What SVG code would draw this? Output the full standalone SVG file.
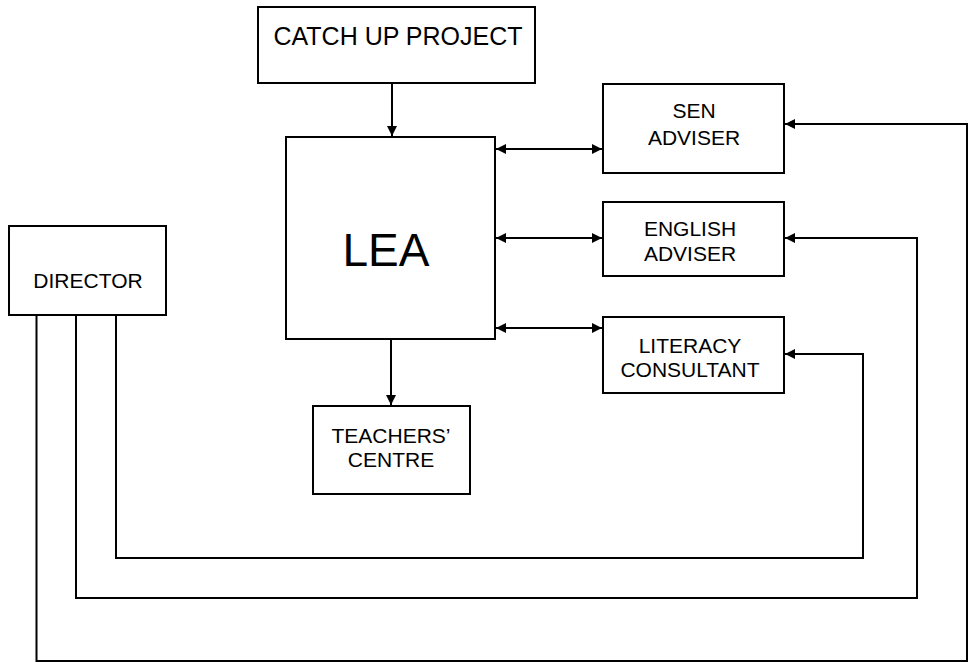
<svg xmlns="http://www.w3.org/2000/svg" width="970" height="662" viewBox="0 0 970 662">
<style>
.box{fill:#fff;stroke:#000;stroke-width:2}
.t{font-family:"Liberation Sans",Arial,sans-serif;font-size:21px;fill:#000;text-anchor:middle}
.c{fill:none;stroke:#000;stroke-width:2}
</style>
<defs>
<marker id="ah" viewBox="0 0 10 10" refX="10" refY="5" markerWidth="10" markerHeight="10" markerUnits="userSpaceOnUse" orient="auto-start-reverse">
<path d="M0,0 L10,5 L0,10 z" fill="#000"/>
</marker>
</defs>
<rect width="970" height="662" fill="#fff"/>
<g id="catchup"><rect class="box" x="258" y="7" width="277" height="76"/><text class="t" x="398" y="45" style="font-size:25px">CATCH UP PROJECT</text></g>
<g id="lea"><rect class="box" x="286" y="137" width="209" height="202"/><text class="t" x="386" y="266" style="font-size:46px">LEA</text></g>
<g id="sen"><rect class="box" x="603" y="84" width="181" height="89"/><text class="t" x="694" y="118">SEN</text><text class="t" x="694" y="145">ADVISER</text></g>
<g id="english"><rect class="box" x="603" y="202" width="181" height="74"/><text class="t" x="690" y="236">ENGLISH</text><text class="t" x="690" y="261">ADVISER</text></g>
<g id="literacy"><rect class="box" x="603" y="317" width="181" height="76"/><text class="t" x="690" y="353">LITERACY</text><text class="t" x="690" y="377">CONSULTANT</text></g>
<g id="teachers"><rect class="box" x="313" y="406" width="157" height="88"/><text class="t" x="391" y="443">TEACHERS’</text><text class="t" x="391" y="467">CENTRE</text></g>
<g id="director"><rect class="box" x="9" y="226" width="157" height="89"/><text class="t" x="88" y="288">DIRECTOR</text></g>
<g id="connectors">
<line class="c" x1="392" y1="83" x2="392" y2="136" marker-end="url(#ah)"/>
<line class="c" x1="391" y1="339" x2="391" y2="405" marker-end="url(#ah)"/>
<line class="c" x1="496" y1="149" x2="602" y2="149" marker-start="url(#ah)" marker-end="url(#ah)"/>
<line class="c" x1="496" y1="238" x2="602" y2="238" marker-start="url(#ah)" marker-end="url(#ah)"/>
<line class="c" x1="496" y1="328" x2="602" y2="328" marker-start="url(#ah)" marker-end="url(#ah)"/>
<polyline class="c" points="36.5,315 36.5,661 967,661 967,124 785,124" marker-end="url(#ah)"/>
<polyline class="c" points="76,315 76,598 917,598 917,238 785,238" marker-end="url(#ah)"/>
<polyline class="c" points="116,315 116,558 863,558 863,354 785,354" marker-end="url(#ah)"/>
</g>
</svg>
